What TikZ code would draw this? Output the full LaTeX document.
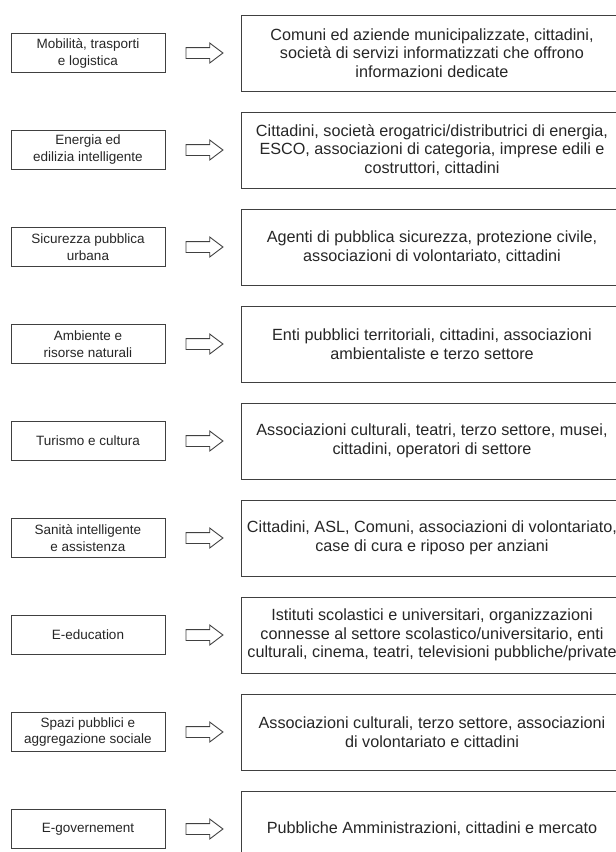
\documentclass[tikz,border=0pt]{standalone}
\usepackage{fontspec}
\setmainfont{Liberation Sans}
\usetikzlibrary{positioning, shapes.arrows}
\tikzset{
  sector/.style={draw=black!75, rectangle, line width=1pt, minimum width=154pt,
                 minimum height=39pt, align=center, text=black!85,
                 font=\fontsize{13.5}{17}\selectfont},
  actors/.style={draw=black!75, rectangle, line width=1pt, minimum width=382pt,
                 minimum height=76pt, align=center, text=black!85,
                 font=\fontsize{16.2}{18.5}\selectfont},
  hollow/.style={draw=black!75, single arrow, line width=0.9pt, inner xsep=0pt,
                 inner ysep=5pt, minimum height=37pt, single arrow head extend=4.5pt,
                 single arrow tip angle=74}
}
\begin{document}
\begin{tikzpicture}[node distance=57pt]
  \useasboundingbox (0,0) rectangle (616pt,-852pt);
  \clip (0,0) rectangle (616pt,-852pt);

  \node[sector] (sec1) at (88pt,-53pt) {Mobilità, trasporti\\e logistica};
  \node[sector, below=of sec1] (sec2) {Energia ed\\edilizia intelligente};
  \node[sector, below=of sec2] (sec3) {Sicurezza pubblica\\urbana};
  \node[sector, below=of sec3] (sec4) {Ambiente e\\risorse naturali};
  \node[sector, below=of sec4] (sec5) {Turismo e cultura};
  \node[sector, below=of sec5] (sec6) {Sanità intelligente\\e assistenza};
  \node[sector, below=of sec6] (sec7) {E-education};
  \node[sector, below=of sec7] (sec8) {Spazi pubblici e\\aggregazione sociale};
  \node[sector, below=of sec8] (sec9) {E-governement};

  \node[actors] (act1) at (432pt,-53pt)
       {Comuni ed aziende municipalizzate, cittadini,\\società di servizi informatizzati che offrono\\informazioni dedicate};
  \node[actors, below=20pt of act1] (act2)
       {Cittadini, società erogatrici/distributrici di energia,\\ESCO, associazioni di categoria, imprese edili e\\costruttori, cittadini};
  \node[actors, below=20pt of act2] (act3)
       {Agenti di pubblica sicurezza, protezione civile,\\associazioni di volontariato, cittadini};
  \node[actors, below=20pt of act3] (act4)
       {Enti pubblici territoriali, cittadini, associazioni\\ambientaliste e terzo settore};
  \node[actors, below=20pt of act4] (act5)
       {Associazioni culturali, teatri, terzo settore, musei,\\cittadini, operatori di settore};
  \node[actors, below=20pt of act5] (act6)
       {Cittadini, ASL, Comuni, associazioni di volontariato,\\case di cura e riposo per anziani};
  \node[actors, below=20pt of act6] (act7)
       {Istituti scolastici e universitari, organizzazioni\\connesse al settore scolastico/universitario, enti\\culturali, cinema, teatri, televisioni pubbliche/private};
  \node[actors, below=20pt of act7] (act8)
       {Associazioni culturali, terzo settore, associazioni\\di volontariato e cittadini};
  \node[actors, below=20pt of act8] (act9)
       {Pubbliche Amministrazioni, cittadini e mercato};

  \node[hollow, right=20pt of sec1] (arr1) {};
  \node[hollow, right=20pt of sec2] (arr2) {};
  \node[hollow, right=20pt of sec3] (arr3) {};
  \node[hollow, right=20pt of sec4] (arr4) {};
  \node[hollow, right=20pt of sec5] (arr5) {};
  \node[hollow, right=20pt of sec6] (arr6) {};
  \node[hollow, right=20pt of sec7] (arr7) {};
  \node[hollow, right=20pt of sec8] (arr8) {};
  \node[hollow, right=20pt of sec9] (arr9) {};
\end{tikzpicture}
\end{document}
